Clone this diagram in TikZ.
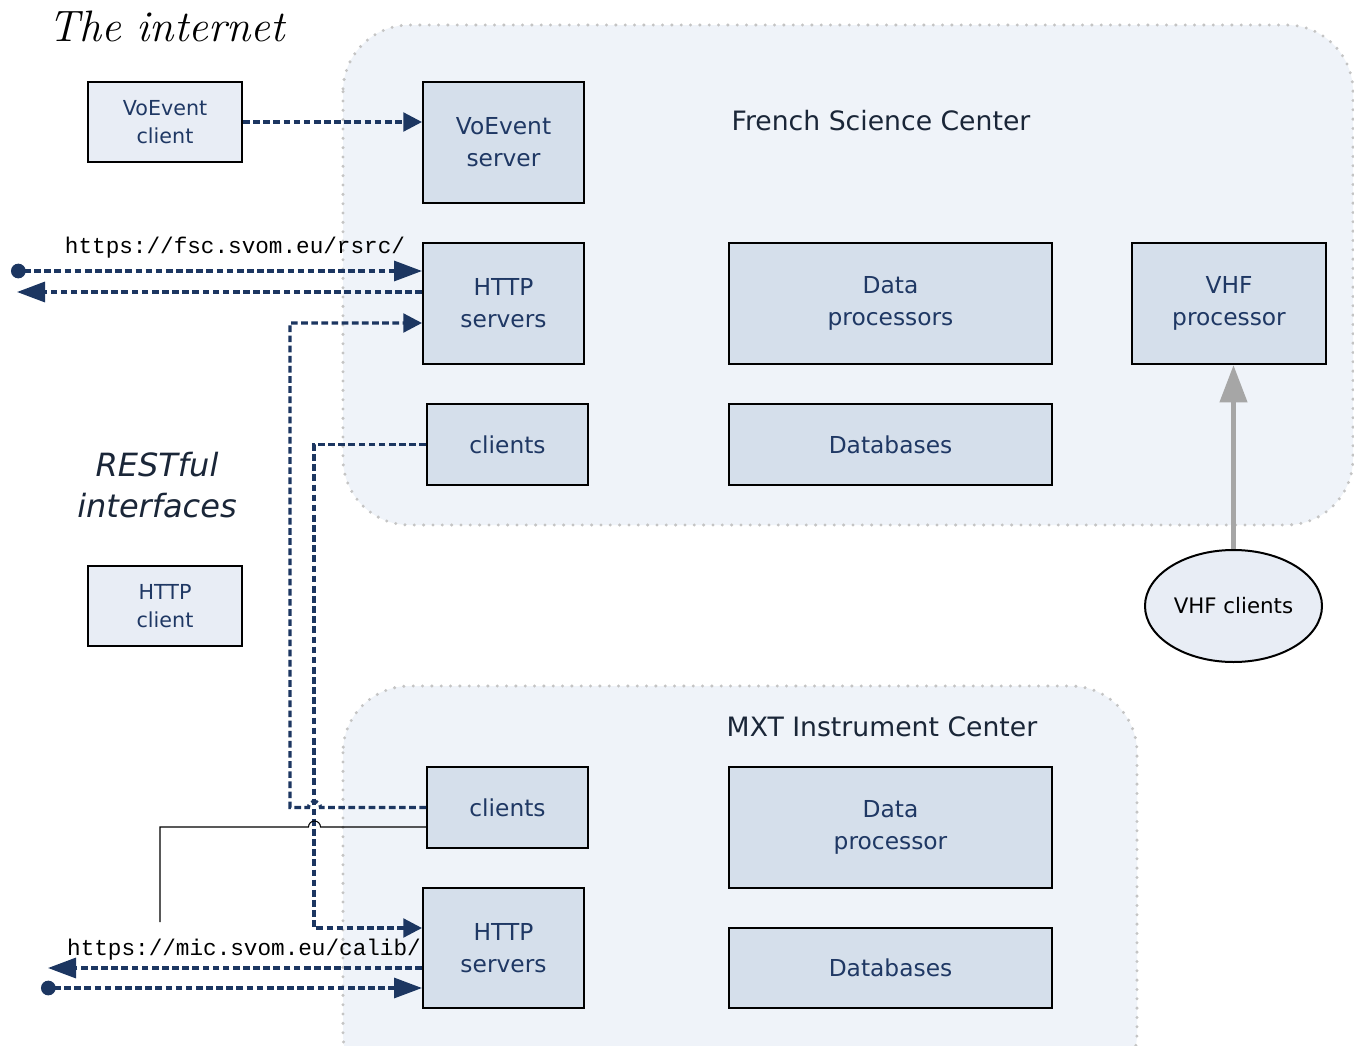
\documentclass[tikz,border=0pt]{standalone}
\usepackage{fontspec}
\newfontfamily\dv{DejaVu Sans}
\setmonofont{Liberation Mono}
\usetikzlibrary{arrows.meta,shapes.geometric}
\definecolor{navy}{HTML}{1C3661}
\definecolor{txtnavy}{HTML}{1F3864}
\definecolor{dark}{HTML}{1A2638}
\definecolor{regfill}{HTML}{EFF3F9}
\definecolor{regline}{HTML}{C4C4C4}
\definecolor{boxin}{HTML}{D5DFEB}
\definecolor{boxout}{HTML}{E8EDF5}
\definecolor{arrgray}{HTML}{A6A6A6}
\tikzset{
  region/.style={fill=regfill, draw=regline, line width=2.5pt, dash pattern=on 0pt off 7pt, line cap=round, rounded corners=50pt},
  inbox/.style={draw=black, line width=1.5pt, fill=boxin, font=\dv\fontsize{17.5}{24}\selectfont, text=txtnavy, align=center, inner sep=0pt},
  outbox/.style={inbox, fill=boxout, font=\dv\fontsize{15.5}{21}\selectfont},
  title/.style={font=\dv\fontsize{20}{24}\selectfont, text=dark},
  url/.style={font=\ttfamily\fontsize{17}{17}\selectfont, text=black},
  link/.style={draw=navy, line width=2.4pt, dash pattern=on 5pt off 2.6pt},
  shortTip/.style={-{Triangle[length=14pt,width=14pt]}},
  longTip/.style={-{Triangle[length=21pt,width=15pt]}},
  dotLongTip/.style={{Circle[length=11pt]}-{Triangle[length=21pt,width=15pt]}},
}
\begin{document}
\begin{tikzpicture}[x=0.75pt,y=-0.75pt]
\useasboundingbox (0,0) rectangle (1354,1046);
\clip (0,0) rectangle (1354,1046);
\fill[white] (0,0) rectangle (1354,1046);

% regions
\path[region] (343,25) rectangle (1353,525);
\path[region] (343,686) rectangle (1137,1100);

% titles
\node[anchor=base west, font=\itshape\fontsize{33}{33}\selectfont] (inet) at (44,41) {The internet};
\node[title] (fsct) at (881,121) {French Science Center};
\node[title] (mxtt) at (882,727) {MXT Instrument Center};
\node[font=\dv\itshape\fontsize{24}{31}\selectfont, text=dark, align=center] (rest) at (157,485) {RESTful\\interfaces};

% outside boxes
\node[outbox, minimum width=115.5pt, minimum height=60pt] (vc) at (165,122) {VoEvent\\client};
\node[outbox, minimum width=115.5pt, minimum height=60pt] (hc) at (165,606) {HTTP\\client};

% French Science Center boxes
\node[inbox, minimum width=120.75pt, minimum height=90.75pt] (vs) at (503.5,142.5) {VoEvent\\server};
\node[inbox, minimum width=120.75pt, minimum height=90.75pt] (hs) at (503.5,303.5) {HTTP\\servers};
\node[inbox, minimum width=242.25pt, minimum height=90.75pt] (dp) at (890.5,303.5) {Data\\processors};
\node[inbox, minimum width=145.5pt, minimum height=90.75pt] (vhfp) at (1229,303.5) {VHF\\processor};
\node[inbox, minimum width=120.75pt, minimum height=60.75pt] (fc) at (507.5,444.5) {clients};
\node[inbox, minimum width=242.25pt, minimum height=60.75pt] (db) at (890.5,444.5) {Databases};

% MXT boxes
\node[inbox, minimum width=120.75pt, minimum height=60.75pt] (mc) at (507.5,807.5) {clients};
\node[inbox, minimum width=242.25pt, minimum height=90.75pt] (mdp) at (890.5,827.5) {Data\\processor};
\node[inbox, minimum width=120.75pt, minimum height=90pt] (ms) at (503.5,948) {HTTP\\servers};
\node[inbox, minimum width=242.25pt, minimum height=60pt] (mdb) at (890.5,968) {Databases};

% VHF clients
\node[ellipse, draw=black, line width=1.5pt, fill=boxout, minimum width=132.75pt, minimum height=84pt, inner sep=0pt, font=\dv\fontsize{16}{20}\selectfont] (vhfc) at (1233.5,606) {VHF clients};

% URL labels
\node[url] (fscurl) at (235,248) {https://fsc.svom.eu/rsrc/};
\node[url] (micurl) at (244,950) {https://mic.svom.eu/calib/};

% coordinates
\coordinate (fscdot) at (11,271);
\coordinate (fscleft) at (17,292);
\coordinate (micleft) at (48,968);
\coordinate (micdot) at (41,988);
\coordinate (c1) at (290,323);
\coordinate (c2) at (314,928);
\coordinate (hopR) at (320.5,0);
\coordinate (thinY) at (0,827);
\coordinate (thinEnd) at (160,922);

% connectors
\draw[link, shortTip] (vc.east) -- (vc.east -| vs.west);
\draw[link, dotLongTip] (fscdot) -- (fscdot -| hs.west);
\draw[link, longTip] (fscleft -| hs.west) -- (fscleft);
\draw[link, shortTip] (mc.west) -- (mc.west -| hopR)
  arc[start angle=0, end angle=180, radius=4.5pt] -- (mc.west -| c1) -- (c1) -- (c1 -| hs.west);
\draw[link, shortTip] (fc.west) -| (c2) -- (c2 -| ms.west);
\draw[line width=0.8pt] (mc.west |- thinY) -- (hopR |- thinY)
  arc[start angle=0, end angle=180, radius=4.5pt] -- (thinEnd |- thinY) -- (thinEnd);
\draw[link, longTip] (micleft -| ms.west) -- (micleft);
\draw[link, dotLongTip] (micdot) -- (micdot -| ms.west);
\draw[draw=arrgray, line width=4pt, -{Triangle[length=28pt,width=20pt]}] (vhfc.north) -- (vhfc.north |- vhfp.south);
\end{tikzpicture}
\end{document}
